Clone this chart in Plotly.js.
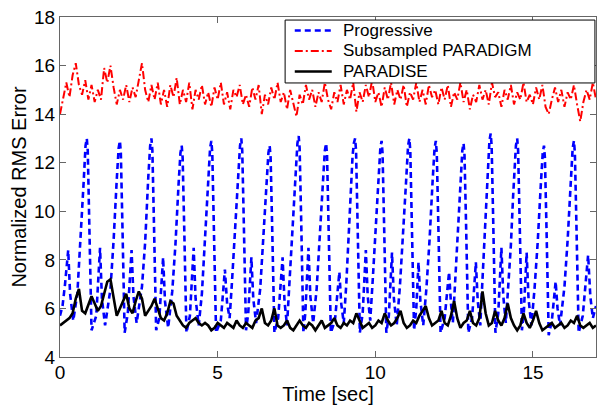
<!DOCTYPE html>
<html>
<head>
<meta charset="utf-8">
<script src="https://cdn.plot.ly/plotly-3.0.1.min.js"></script>
<style>html,body{margin:0;padding:0;background:#fff;}#chart{width:604px;height:405px;}</style>
</head>
<body>
<div id="chart"></div>
<script>
// Progressive (blue dashed) – key points
const progTime = [
0.00,0.08,0.16,0.26,0.32,0.42,
0.55,0.65,0.75,0.81,0.85,0.88,0.93,1.00,
1.15,1.21,1.27,1.33,1.43,
1.60,1.70,1.80,1.86,1.90,1.93,1.98,2.05,
2.15,2.21,2.27,2.33,2.43,
2.60,2.70,2.80,2.86,2.90,2.93,2.98,3.05,
3.15,3.21,3.27,3.33,3.43,
3.56,3.66,3.76,3.82,3.86,3.89,3.94,4.01,
4.12,4.18,4.24,4.30,4.40,
4.50,4.60,4.70,4.76,4.80,4.83,4.88,4.95,
5.10,5.17,5.23,5.30,5.38,
5.45,5.55,5.65,5.71,5.75,5.78,5.83,5.90,
5.97,6.02,6.07,6.13,6.22,
6.35,6.45,6.55,6.61,6.65,6.68,6.73,6.80,
6.92,7.00,7.06,7.12,7.20,
7.27,7.37,7.45,7.53,7.57,7.60,7.65,7.72,
7.78,7.83,7.88,7.94,8.03,
8.14,8.24,8.34,8.40,8.44,8.47,8.52,8.59,
8.72,8.80,8.86,8.92,9.00,
9.08,9.17,9.28,9.32,9.36,9.39,9.44,9.51,
9.60,9.65,9.70,9.76,9.84,
9.92,10.00,10.08,10.16,10.20,10.23,10.28,10.35,
10.43,10.48,10.53,10.59,10.68,
10.78,10.88,10.98,11.04,11.08,11.11,11.16,11.23,
11.30,11.33,11.37,11.43,11.52,
11.62,11.72,11.82,11.88,11.92,11.95,12.00,12.07,
12.20,12.28,12.34,12.40,12.46,
12.52,12.61,12.70,12.76,12.80,12.83,12.88,12.95,
13.07,13.13,13.19,13.25,13.33,
13.40,13.48,13.58,13.62,13.66,13.69,13.74,13.81,
13.90,13.95,14.00,14.06,14.14,
14.22,14.30,14.37,14.46,14.50,14.53,14.58,14.65,
14.71,14.76,14.80,14.86,14.95,
15.05,15.15,15.25,15.31,15.35,15.38,15.43,15.50,
15.60,15.66,15.72,15.78,15.86,
16.00,16.10,16.20,16.26,16.30,16.33,16.38,16.45,
16.58,16.68,16.75,16.82,16.90,17.00
];
const progError = [
5.7,6.1,7.0,8.4,6.6,5.5,
6.6,8.7,11.2,12.7,13.0,12.5,9.5,5.1,
5.7,7.0,8.5,6.4,5.3,
6.8,8.8,11.3,12.6,12.9,12.4,9.4,5.0,
5.8,7.1,8.4,6.5,5.4,
6.9,8.7,11.4,12.7,13.0,12.5,9.5,5.1,
5.6,6.9,8.1,6.3,5.2,
6.7,8.6,11.1,12.4,12.7,12.2,9.3,5.0,
5.7,7.0,8.5,6.4,5.3,
6.6,8.7,11.2,12.6,12.9,12.4,9.4,5.0,
5.5,6.6,7.6,6.2,5.6,
7.0,9.2,11.3,12.7,13.0,12.5,9.5,5.1,
5.8,7.0,8.1,6.4,5.4,
6.8,8.8,11.2,12.4,12.7,12.2,9.3,5.0,
5.6,6.9,8.1,6.3,5.3,
6.9,9.0,11.0,12.8,13.1,12.6,9.6,5.0,
5.8,7.2,8.5,6.5,5.4,
6.8,8.8,11.2,12.5,12.8,12.3,9.4,5.0,
5.5,6.6,7.5,6.2,5.4,
7.0,9.6,12.3,12.8,13.0,12.5,9.5,5.0,
5.8,7.1,8.4,6.5,5.5,
7.2,9.0,11.0,12.6,12.9,12.4,9.4,5.0,
5.7,7.0,8.3,6.4,5.3,
6.9,8.9,11.3,12.7,13.0,12.5,9.5,5.1,
6.0,7.0,7.9,6.3,5.3,
6.8,8.8,11.3,12.6,12.9,12.4,9.4,5.0,
5.6,6.6,7.5,6.2,5.4,
6.8,8.8,11.2,12.5,12.8,12.3,9.4,5.0,
5.6,6.8,7.9,6.3,5.3,
7.2,9.4,11.7,12.9,13.2,12.7,9.6,5.0,
5.8,7.2,8.5,6.5,5.4,
7.0,8.6,10.6,12.7,13.0,12.5,9.5,5.1,
5.8,7.0,8.3,6.4,5.3,
6.8,8.7,11.1,12.4,12.7,12.2,9.3,4.9,
5.5,6.3,7.1,6.0,5.3,
6.9,8.8,11.2,12.6,12.9,12.4,9.4,5.0,
5.7,7.0,8.2,6.5,5.6,6.1
];

// Sampling step of the two sampled series (seconds)
const sampleStep = 0.1;

// Subsampled PARADIGM (red dash-dot), one value every 0.1 s from 0 to 17
const paradigmError = [
14.0,14.6,15.3,14.7,15.6,16.1,15.2,14.8,15.4,14.6,15.2,14.5,15.0,14.6,15.9,15.3,16.0,15.1,14.4,15.0,14.6,15.2,14.5,15.1,14.7,15.4,16.1,15.0,14.5,15.2,
14.6,15.3,14.4,15.0,14.3,15.2,14.7,15.5,14.4,15.0,14.5,15.3,14.2,15.0,14.6,15.2,14.4,14.9,14.3,15.1,14.6,15.3,14.4,14.9,14.2,15.0,14.7,15.2,14.4,14.8,
14.3,15.1,14.6,15.2,14.0,14.8,14.4,15.1,14.6,15.3,14.5,14.9,14.2,15.0,14.5,13.9,14.8,14.4,15.2,14.6,15.0,14.3,14.9,14.5,15.3,14.6,14.2,14.9,14.5,15.2,
14.4,15.0,14.6,15.3,14.1,14.9,14.5,15.2,14.7,15.4,14.5,14.9,14.3,15.1,14.6,15.3,14.4,15.0,14.6,15.2,14.3,14.9,14.6,15.3,14.5,15.0,14.4,15.2,14.7,15.0,
14.4,15.1,14.6,15.2,14.3,14.9,14.6,15.3,14.5,15.0,14.2,14.8,14.5,15.2,14.6,15.0,14.4,15.3,14.7,14.9,14.3,15.0,14.6,15.2,14.4,14.9,14.6,15.3,14.5,14.8,
14.4,15.1,14.6,15.2,14.3,14.0,14.6,15.1,14.5,15.0,14.3,14.9,14.6,15.2,14.4,13.7,14.5,15.0,14.6,15.3,14.6
];

// PARADISE (black solid), one value every 0.1 s from 0 to 17
const paradiseError = [
5.3,5.4,5.5,5.6,5.8,6.4,6.8,5.9,5.8,6.2,
6.5,6.2,5.9,6.1,6.6,7.1,7.2,6.5,5.7,6.0,
6.3,6.6,6.0,5.8,6.3,6.7,6.4,5.7,5.9,6.1,
6.4,6.0,5.6,5.5,5.8,6.3,6.2,5.7,5.5,5.3,
5.2,5.4,5.5,5.6,5.4,5.3,5.4,5.3,5.1,5.2,
5.4,5.3,5.2,5.4,5.3,5.2,5.5,5.3,5.2,5.4,
5.3,5.2,5.5,5.6,6.0,5.4,5.3,5.5,6.0,5.3,
5.2,5.3,5.5,5.2,5.1,5.3,5.5,5.3,5.2,5.4,
5.3,5.1,5.3,5.5,5.2,5.3,5.4,5.6,5.3,5.2,
5.4,5.3,5.5,5.4,5.8,5.5,5.2,5.3,5.4,5.2,
5.3,5.5,5.4,5.8,5.5,5.3,5.4,5.6,5.9,5.4,
5.2,5.3,5.5,5.4,5.7,5.9,6.1,5.6,5.3,5.4,
5.5,5.9,5.4,5.3,5.7,6.3,5.6,5.2,5.4,5.5,
5.9,5.4,5.3,5.6,6.7,5.8,5.3,5.4,5.9,5.5,
5.3,5.6,6.2,5.6,5.3,5.1,5.3,5.8,5.4,5.2,
5.5,5.9,5.4,5.1,5.2,5.3,5.4,5.2,5.3,5.4,
5.2,5.3,5.5,5.4,5.7,5.3,5.2,5.3,5.4,5.2,
5.3
];

const seriesNames = ['Progressive', 'Subsampled PARADIGM', 'PARADISE'];
const xTickVals = [0, 5, 10, 15];
const yTickVals = [4, 6, 8, 10, 12, 14, 16, 18];

const sampledTime = n => Array.from({length: n}, (_, i) => Math.round(i * sampleStep * 100) / 100);

const lineStyles = [
  {color: '#0000ff', width: 2.6, dash: '6px,4px'},
  {color: '#ff0000', width: 2, dash: '8px,3px,2px,3px'},
  {color: '#000000', width: 2.6, dash: 'solid'}
];

const traces = [
  {x: progTime, y: progError, name: seriesNames[0], type: 'scatter', mode: 'lines', line: lineStyles[0], showlegend: false},
  {x: sampledTime(paradigmError.length), y: paradigmError, name: seriesNames[1], type: 'scatter', mode: 'lines', line: lineStyles[1], showlegend: false},
  {x: sampledTime(paradiseError.length), y: paradiseError, name: seriesNames[2], type: 'scatter', mode: 'lines', line: lineStyles[2], showlegend: false}
];

// Legend box (MATLAB-style) drawn in paper coordinates
const legBox = {x0: 0.42, x1: 0.998, y0: 0.806, y1: 0.991};
const legRowsY = [0.9603, 0.9, 0.8397];
const legSample = {x0: 0.438, x1: 0.507};
const legTextX = 0.526;

const fontFam = 'Liberation Sans, Arial, Helvetica, sans-serif';

const shapes = [{type: 'rect', xref: 'paper', yref: 'paper', x0: legBox.x0, x1: legBox.x1, y0: legBox.y0, y1: legBox.y1,
  line: {color: '#000000', width: 1}, fillcolor: '#ffffff', layer: 'above'}];
const annotations = [];
seriesNames.forEach((nm, i) => {
  shapes.push({type: 'line', xref: 'paper', yref: 'paper', x0: legSample.x0, x1: legSample.x1, y0: legRowsY[i], y1: legRowsY[i],
    line: {color: lineStyles[i].color, width: lineStyles[i].width, dash: lineStyles[i].dash}, layer: 'above'});
  annotations.push({xref: 'paper', yref: 'paper', x: legTextX, y: legRowsY[i], xanchor: 'left', yanchor: 'middle',
    text: nm, showarrow: false, borderpad: 0, font: {family: fontFam, size: 17, color: '#000'}});
});

const layout = {
  width: 604, height: 405,
  margin: {l: 60, r: 8, t: 17, b: 48},
  paper_bgcolor: '#ffffff', plot_bgcolor: '#ffffff',
  font: {family: fontFam, size: 19, color: '#000'},
  showlegend: false,
  shapes: shapes,
  annotations: annotations,
  xaxis: {range: [0, 17], tickvals: xTickVals, ticktext: xTickVals.map(String),
    ticks: 'inside', ticklen: 6, tickcolor: '#666', showgrid: false, zeroline: false,
    showline: true, linecolor: '#666', linewidth: 1, mirror: 'ticks', ticklabelstandoff: -2,
    tickfont: {size: 19}, title: {text: 'Time [sec]', font: {size: 20}, standoff: 0}},
  yaxis: {range: [4, 18], tickvals: yTickVals, ticktext: yTickVals.map(String),
    ticks: 'inside', ticklen: 6, tickcolor: '#666', showgrid: false, zeroline: false,
    showline: true, linecolor: '#666', linewidth: 1, mirror: 'ticks',
    tickfont: {size: 19}, title: {text: 'Normalized RMS Error', font: {size: 20}, standoff: 2}}
};

Plotly.newPlot('chart', traces, layout, {displayModeBar: false, staticPlot: true});
</script>
</body>
</html>
